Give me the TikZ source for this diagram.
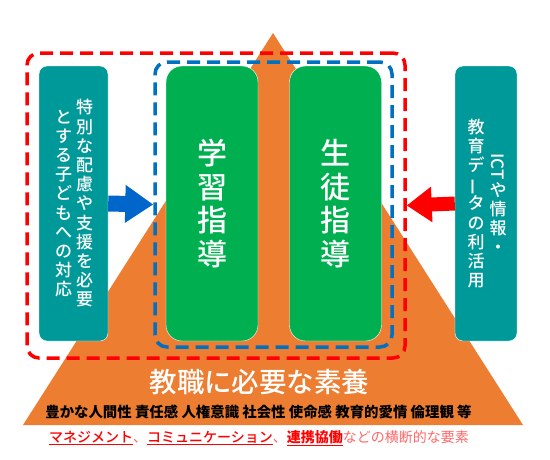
\documentclass[tikz,border=0pt]{standalone}
\usepackage{fontspec}
\setmainfont{Noto Sans CJK JP}
\newfontfamily\medfont{Noto Sans CJK JP Medium}
\usepackage{graphicx}
\usepackage{xcolor}
\usepackage{tikz}
\usetikzlibrary{arrows.meta,positioning}
\definecolor{pyramid}{HTML}{ED7D31}
\definecolor{sideteal}{HTML}{009999}
\definecolor{coregreen}{HTML}{00B050}
\definecolor{frameblue}{HTML}{0070C0}
\definecolor{arrowblue}{HTML}{0066CC}
\definecolor{framered}{HTML}{FF0000}
\definecolor{softred}{HTML}{FF6666}

\begin{document}
\begin{tikzpicture}[
    x=1pt, y=-1pt,
    sidebox/.style={draw=white, thin, fill=sideteal, rounded corners=8pt,
                    minimum height=275pt, inner sep=0pt},
    corebox/.style={draw=white, thin, fill=coregreen, rounded corners=16pt,
                    minimum width=92pt, minimum height=275pt, inner sep=0pt},
    frame/.style={line width=3.5pt, dash pattern=on 13pt off 7pt,
                  rounded corners=12pt, inner sep=0pt},
    vcol/.style={text=white, align=center, inner sep=0pt,
                 font=\medfont\fontsize{17}{19.2}\selectfont},
    bigcol/.style={text=white, align=center, inner sep=0pt,
                   font=\medfont\fontsize{30}{33.5}\selectfont},
    flow/.style={line width=16pt, -{Triangle[length=28pt,width=36pt]}}
]
\useasboundingbox (0,0) rectangle (550,459);
\fill[pyramid] (273,33) -- (523,425) -- (23,425) -- cycle;

\node[sidebox, minimum width=69pt] (lbox) at (73.5,203.5) {};
\node[sidebox, minimum width=62pt] (rbox) at (486,203.5) {};
\node[corebox] (learnbox) at (212,203.5) {};
\node[corebox] (guidebox) at (335.5,203.5) {};

\node[frame, draw=framered, minimum width=378pt, minimum height=305pt] (outer) at (216,205.5) {};
\node[frame, draw=frameblue, minimum width=237pt, minimum height=285pt] (inner) at (273.5,204.5) {};

\draw[flow, draw=arrowblue] (lbox.east) -- (inner.west);
\draw[flow, draw=framered, line width=14pt, -{Triangle[length=25pt,width=34pt]}] (rbox.west) -- (outer.east);

% vertical labels
\node[vcol] (lcola) at ([xshift=11pt]lbox.center) {特\\別\\な\\配\\慮\\や\\支\\援\\を\\必\\要};
\node[vcol] (lcolb) at ([xshift=-10pt]lbox.center) {と\\す\\る\\子\\ど\\も\\へ\\の\\対\\応};
\node[vcol] (rcola) at ([xshift=12pt]rbox.center) {\rotatebox[origin=c]{-90}{ICT}\\[2pt]や\\情\\報\\・};
\node[vcol] (rcolb) at ([xshift=-10pt]rbox.center) {教\\育\\デ\\\rotatebox[origin=c]{90}{ー}\\タ\\の\\利\\活\\用};

\node[bigcol] (learn) at (learnbox.center) {学\\習\\指\\導};
\node[bigcol] (guide) at (guidebox.center) {生\\徒\\指\\導};

\node[text=white, font=\medfont\fontsize{27.5}{30}\selectfont] (quality) at (259.5,382) {教職に必要な素養};
\node[font=\bfseries\fontsize{14.4}{16}\selectfont] (traits) at (258.5,412)
  {豊かな人間性 責任感 人権意識 社会性 使命感 教育的愛情 倫理観 等};
\node[font=\fontsize{14}{16}\selectfont] (cross) at (259,438)
  {\textcolor{framered}{\medfont\underline{マネジメント}}\textcolor{softred}{、}\textcolor{framered}{\medfont\underline{コミュニケーション}}\textcolor{softred}{、}\textcolor{framered}{\underline{\bfseries 連携協働}}\textcolor{softred}{などの横断的な要素}};
\end{tikzpicture}
\end{document}
